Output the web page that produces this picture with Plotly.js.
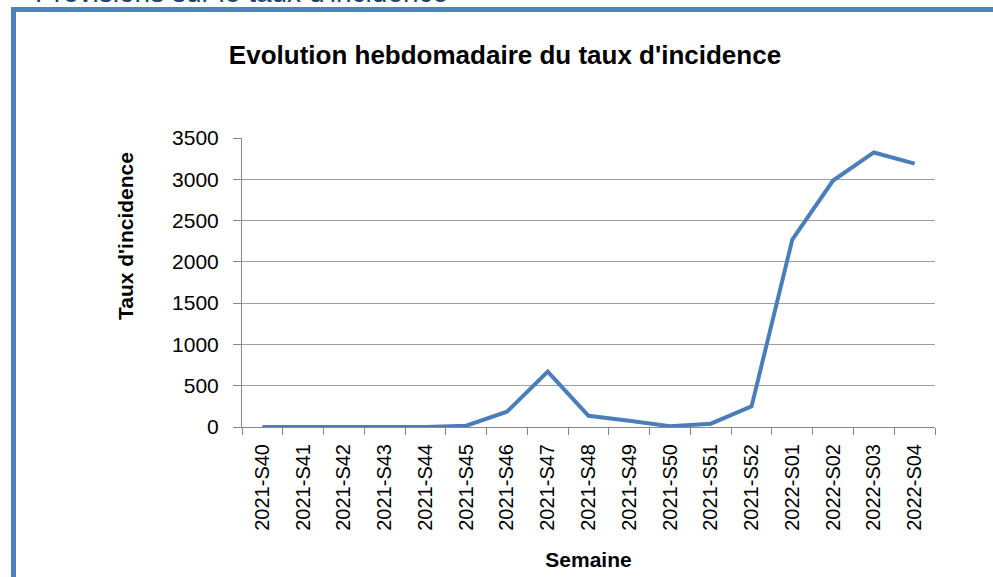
<!DOCTYPE html>
<html>
<head>
<meta charset="utf-8">
<script src="https://cdn.plot.ly/plotly-3.0.1.min.js"></script>
<style>
  html, body { margin: 0; padding: 0; background: #ffffff; overflow: hidden; }
  #wrap { position: relative; width: 993px; height: 577px; }
  #chart { position: absolute; left: 0; top: 0; width: 993px; height: 577px; }
  #frame { position: absolute; left: 11px; top: 7px; width: 990px; height: 580px;
           border-left: 5px solid #4F81BD; border-top: 5px solid #4F81BD;
           pointer-events: none; box-sizing: border-box; }
</style>
</head>
<body>
<div id="wrap">
  <div id="chart"></div>
  <div id="frame"></div>
</div>
<script>
const weeks = ["2021-S40","2021-S41","2021-S42","2021-S43","2021-S44","2021-S45","2021-S46","2021-S47","2021-S48","2021-S49","2021-S50","2021-S51","2021-S52","2022-S01","2022-S02","2022-S03","2022-S04"];
const incidence = [0, 0, 0, 0, 0, 15, 185, 670, 135, 75, 10, 40, 250, 2270, 2985, 3325, 3190];
const yTicks = [0, 500, 1000, 1500, 2000, 2500, 3000, 3500];

const chartTitle = "Evolution hebdomadaire du taux d'incidence";
const xTitle = "Semaine";
const yTitle = "Taux d'incidence";
const pageHeading = "Prévisions sur le taux d'incidence";

const FONT = "Liberation Sans, Arial, sans-serif";

const trace = {
  x: weeks,
  y: incidence,
  type: "scatter",
  mode: "lines",
  line: { color: "#4A7EBB", width: 4 },
  hoverinfo: "x+y"
};

const layout = {
  width: 993,
  height: 577,
  paper_bgcolor: "rgba(0,0,0,0)",
  plot_bgcolor: "#ffffff",
  margin: { l: 242, r: 58, t: 138, b: 150 },
  showlegend: false,
  title: {
    text: chartTitle,
    font: { family: FONT, size: 26, color: "#000000", weight: "bold" },
    x: 505 / 993, xref: "container", xanchor: "center",
    y: 1 - 55 / 577, yref: "container", yanchor: "middle"
  },
  xaxis: {
    type: "category",
    tickmode: "array",
    tickvals: weeks,
    ticktext: weeks,
    tickangle: -90,
    tickson: "boundaries",
    ticks: "outside",
    ticklen: 7,
    tickcolor: "#888888",
    tickwidth: 1,
    ticklabelstandoff: 8,
    tickfont: { family: FONT, size: 20, color: "#000000" },
    showline: true,
    linecolor: "#888888",
    linewidth: 1,
    showgrid: false,
    zeroline: false,
    range: [-0.5, weeks.length - 0.5],
    automargin: false,
    title: {
      text: xTitle,
      font: { family: FONT, size: 21, color: "#000000", weight: "bold" },
      standoff: 22
    }
  },
  yaxis: {
    range: [0, 3500],
    tickmode: "array",
    tickvals: yTicks,
    ticktext: yTicks.map(String),
    ticks: "outside",
    ticklen: 8,
    tickcolor: "#888888",
    tickwidth: 1,
    ticklabelstandoff: 10,
    tickfont: { family: FONT, size: 21, color: "#000000" },
    showline: true,
    linecolor: "#888888",
    linewidth: 1,
    showgrid: true,
    gridcolor: "#9f9f9f",
    gridwidth: 1,
    zeroline: false,
    automargin: false
  },
  annotations: [
    {
      text: "<b>" + yTitle + "</b>",
      xref: "paper", yref: "paper",
      x: (125 - 242) / 693, xanchor: "center",
      y: (427 - 236) / 289, yanchor: "middle",
      textangle: -90,
      showarrow: false,
      font: { family: FONT, size: 21, color: "#000000" }
    },
    {
      text: pageHeading,
      xref: "paper", yref: "paper",
      x: (33 - 242) / 693, xanchor: "left",
      y: (427 - 10) / 289, yanchor: "bottom",
      showarrow: false,
      font: { family: FONT, size: 28, color: "#1F3F73" }
    }
  ]
};

Plotly.newPlot("chart", [trace], layout, { displayModeBar: false, staticPlot: true });
</script>
</body>
</html>
